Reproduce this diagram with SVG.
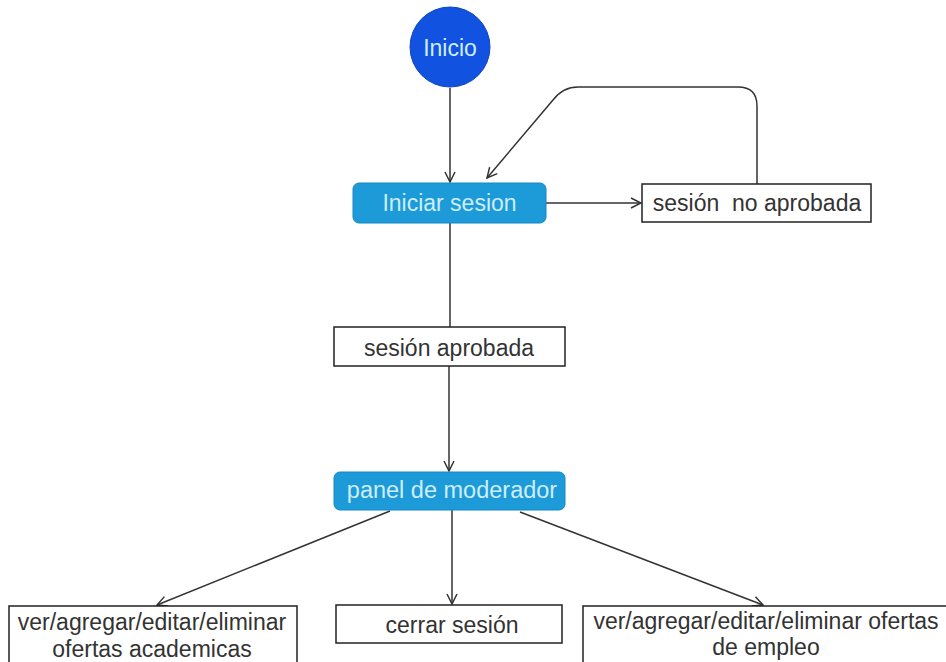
<svg xmlns="http://www.w3.org/2000/svg" width="946" height="662" viewBox="0 0 946 662">
<style>
text{font-family:"Liberation Sans",Arial,sans-serif;font-size:23px;text-anchor:middle}
.box{fill:#ffffff;stroke:#222222;stroke-width:1.5}
.blue{fill:#1d9ad8;stroke:#1788c4;stroke-width:1}
.dark{fill:#333333}
.light{fill:#cdeefc}
.edge{fill:none;stroke:#333333;stroke-width:1.5}
</style>
<defs>
<marker id="arr" viewBox="0 0 12 12" refX="11" refY="6" markerWidth="12" markerHeight="12" markerUnits="userSpaceOnUse" orient="auto">
<path d="M1,1 L11,6 L1,11" fill="none" stroke="#333333" stroke-width="1.5"/>
</marker>
</defs>
<rect width="946" height="662" fill="#ffffff"/>
<g id="connectors">
<path class="edge" d="M450,88 V182" marker-end="url(#arr)"/>
<path class="edge" d="M546,203 H641" marker-end="url(#arr)"/>
<path class="edge" d="M757,184 V106 Q757,87 738,87 H578 Q563,87 553,100 L487,178" marker-end="url(#arr)"/>
<path class="edge" d="M450,223 V327"/>
<path class="edge" d="M449,366 V471" marker-end="url(#arr)"/>
<path class="edge" d="M390,511 L157,605" marker-end="url(#arr)"/>
<path class="edge" d="M452,510 V604" marker-end="url(#arr)"/>
<path class="edge" d="M520,512 L763,605" marker-end="url(#arr)"/>
</g>
<g id="inicio">
<circle cx="450" cy="47" r="40" fill="#1252e0" stroke="#0e44c0" stroke-width="1"/>
<text x="450" y="56" class="light">Inicio</text>
</g>
<g id="iniciar-sesion">
<rect class="blue" x="353" y="183" width="193" height="40" rx="6"/>
<text x="449.5" y="211" class="light">Iniciar sesion</text>
</g>
<g id="sesion-no-aprobada">
<rect class="box" x="642" y="184" width="229" height="38"/>
<text x="757" y="211" class="dark" xml:space="preserve">sesión  no aprobada</text>
</g>
<g id="sesion-aprobada">
<rect class="box" x="334" y="327" width="231" height="39"/>
<text x="449" y="356" class="dark">sesión aprobada</text>
</g>
<g id="panel-moderador">
<rect class="blue" x="334" y="472" width="231" height="38" rx="6"/>
<text x="452" y="498" class="light" style="font-size:23.5px">panel de moderador</text>
</g>
<g id="ofertas-academicas">
<rect class="box" x="9" y="606" width="288" height="70"/>
<text x="152" y="630" class="dark">ver/agregar/editar/eliminar</text>
<text x="152" y="657" class="dark">ofertas academicas</text>
</g>
<g id="cerrar-sesion">
<rect class="box" x="336" y="605" width="226" height="38"/>
<text x="452" y="633" class="dark">cerrar sesión</text>
</g>
<g id="ofertas-empleo">
<rect class="box" x="583" y="606" width="380" height="70"/>
<text x="766" y="629" class="dark">ver/agregar/editar/eliminar ofertas</text>
<text x="766" y="655" class="dark">de empleo</text>
</g>
</svg>
